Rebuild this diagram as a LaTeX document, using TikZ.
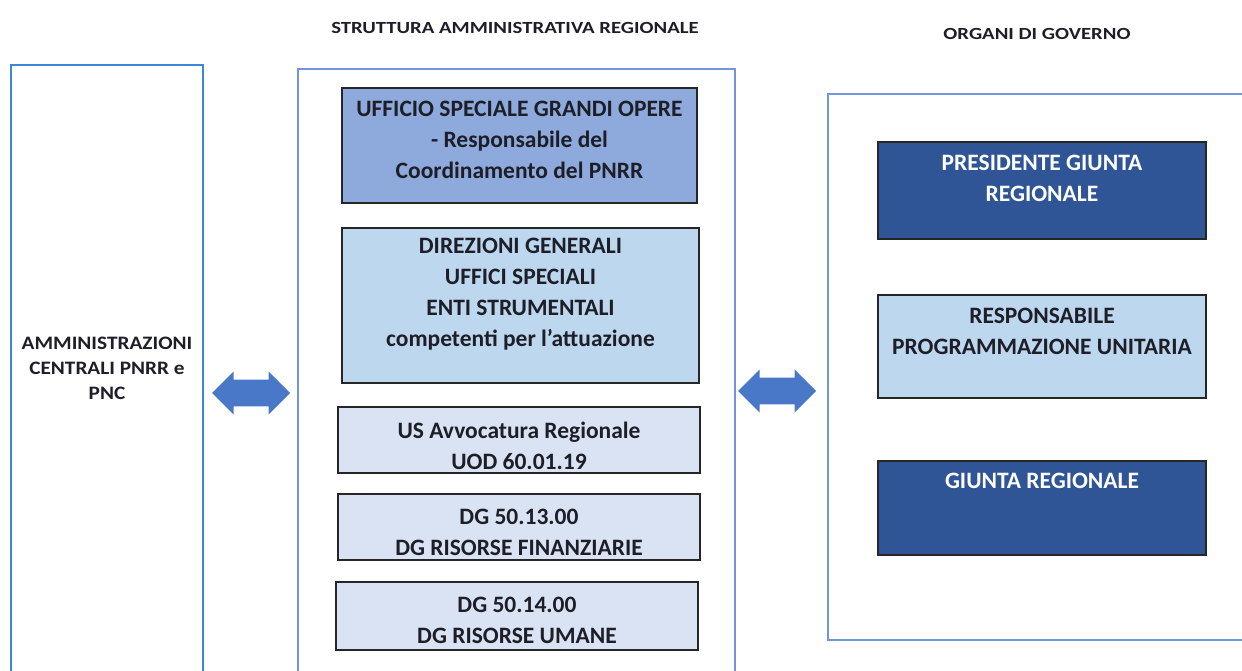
\documentclass[tikz,border=0pt]{standalone}
\usepackage{fontspec}
\setmainfont{Carlito}
\usetikzlibrary{shapes.arrows}
\definecolor{leftline}{HTML}{3C87D6}
\definecolor{midline}{HTML}{7394DE}
\definecolor{boxA}{HTML}{8EA9DB}
\definecolor{boxB}{HTML}{BDD7EE}
\definecolor{boxC}{HTML}{DAE3F3}
\definecolor{boxD}{HTML}{2F5597}
\definecolor{arrowc}{HTML}{4A78C8}
\definecolor{txt}{HTML}{1E1E28}
\tikzset{
  cont/.style={line width=2pt},
  ubox/.style={draw=black!85, line width=2pt, inner sep=0pt},
  btxt/.style={font=\bfseries\fontsize{23.5}{31}\selectfont, align=center, text=txt, inner sep=0pt},
  wtxt/.style={font=\bfseries\fontsize{23.5}{31}\selectfont, align=center, text=white, inner sep=0pt},
  ttl/.style={font=\bfseries\fontsize{17}{20}\selectfont, text=txt, inner sep=0pt},
  dblarrow/.style={double arrow, fill=arrowc, draw=none, inner xsep=0pt, inner ysep=11.5pt,
     double arrow tip angle=90, minimum width=43pt, minimum height=78pt}
}
\begin{document}
\begin{tikzpicture}[x=1pt,y=-1pt]
\useasboundingbox (0,0) rectangle (1242,671);
% titles
\node[ttl] (t1) at (515,28) {\scalebox{1.22}[1]{STRUTTURA AMMINISTRATIVA REGIONALE}};
\node[ttl] (t2) at (1037,34) {\scalebox{1.22}[1]{ORGANI DI GOVERNO}};
% left container
\draw[cont, leftline] (11,680) -- (11,65) -- (203,65) -- (203,680);
\node[font=\bfseries\fontsize{19}{25}\selectfont, align=center, text=txt] (lt) at (107,368)
  {\scalebox{1.12}[1]{AMMINISTRAZIONI}\\\scalebox{1.12}[1]{CENTRALI PNRR e}\\\scalebox{1.12}[1]{PNC}};
% middle container
\draw[cont, midline] (298,680) -- (298,69) -- (735,69) -- (735,680);
% right container
\draw[cont, midline] (1250,94) -- (828,94) -- (828,640) -- (1250,640);
% middle boxes
\path[ubox, fill=boxA] (342,88) rectangle (697,203);
\node[btxt] (b1) at (519.5,140) {UFFICIO SPECIALE GRANDI OPERE\\- Responsabile del\\Coordinamento del PNRR};
\path[ubox, fill=boxB] (342,228) rectangle (699,383);
\node[btxt] (b2) at (520.5,294) {DIREZIONI GENERALI\\UFFICI SPECIALI\\ENTI STRUMENTALI\\competenti per l’attuazione};
\path[ubox, fill=boxC] (338,407) rectangle (700,473);
\node[btxt] (b3) at (519,446) {US Avvocatura Regionale\\UOD 60.01.19};
\path[ubox, fill=boxC] (338,494) rectangle (700,560);
\node[btxt] (b4) at (519,532) {DG 50.13.00\\DG RISORSE FINANZIARIE};
\path[ubox, fill=boxC] (336,582) rectangle (698,650);
\node[btxt] (b5) at (517,620) {DG 50.14.00\\DG RISORSE UMANE};
% right boxes
\path[ubox, fill=boxD] (878,142) rectangle (1206,239);
\node[wtxt] (r1) at (1042,178) {PRESIDENTE GIUNTA\\REGIONALE};
\path[ubox, fill=boxB] (878,295) rectangle (1206,398);
\node[btxt] (r2) at (1042,331) {RESPONSABILE\\PROGRAMMAZIONE UNITARIA};
\path[ubox, fill=boxD] (878,461) rectangle (1206,555);
\node[wtxt] (r3) at (1042,481) {GIUNTA REGIONALE};
% arrows
\node[dblarrow] (a1) at (251,393) {};
\node[dblarrow] (a2) at (777,391) {};
\end{tikzpicture}
\end{document}
